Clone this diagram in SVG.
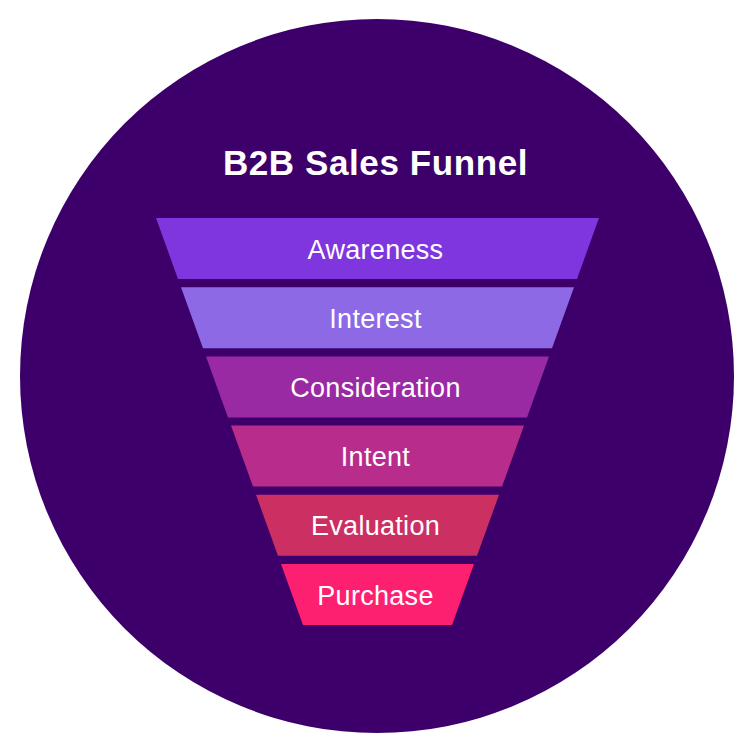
<svg xmlns="http://www.w3.org/2000/svg" width="750" height="750" viewBox="0 0 750 750">
<style>
.lbl{font-family:"Liberation Sans",Arial,sans-serif;font-size:27px;fill:#ffffff;text-anchor:middle;letter-spacing:0.3px}
.title{font-family:"Liberation Sans",Arial,sans-serif;font-size:35px;font-weight:bold;fill:#ffffff;text-anchor:middle;letter-spacing:0.6px}
</style>
<rect width="750" height="750" fill="#ffffff"/>
<circle id="bg" cx="377" cy="376" r="357" fill="#3D006B"/>
<text id="title" class="title" x="375.5" y="175">B2B Sales Funnel</text>
<g id="awareness">
<polygon points="156,218 599,218 577,279 178,279" fill="#7F36DE"/>
<text class="lbl" x="375.5" y="258.5">Awareness</text>
</g>
<g id="interest">
<polygon points="181,287.2 574,287.2 552,348.2 203,348.2" fill="#8E69E6"/>
<text class="lbl" x="375.5" y="328">Interest</text>
</g>
<g id="consideration">
<polygon points="206,356.4 549,356.4 527,417.4 228,417.4" fill="#9A2AA4"/>
<text class="lbl" x="375.5" y="397">Consideration</text>
</g>
<g id="intent">
<polygon points="231,425.6 524,425.6 502,486.6 253,486.6" fill="#B82D8B"/>
<text class="lbl" x="375.5" y="466">Intent</text>
</g>
<g id="evaluation">
<polygon points="256,494.8 499,494.8 477,555.8 278,555.8" fill="#CC2F62"/>
<text class="lbl" x="375.5" y="535">Evaluation</text>
</g>
<g id="purchase">
<polygon points="281,564 474,564 452,625 303,625" fill="#FE2070"/>
<text class="lbl" x="375.5" y="604.5">Purchase</text>
</g>
<g id="connectors"/>
</svg>
